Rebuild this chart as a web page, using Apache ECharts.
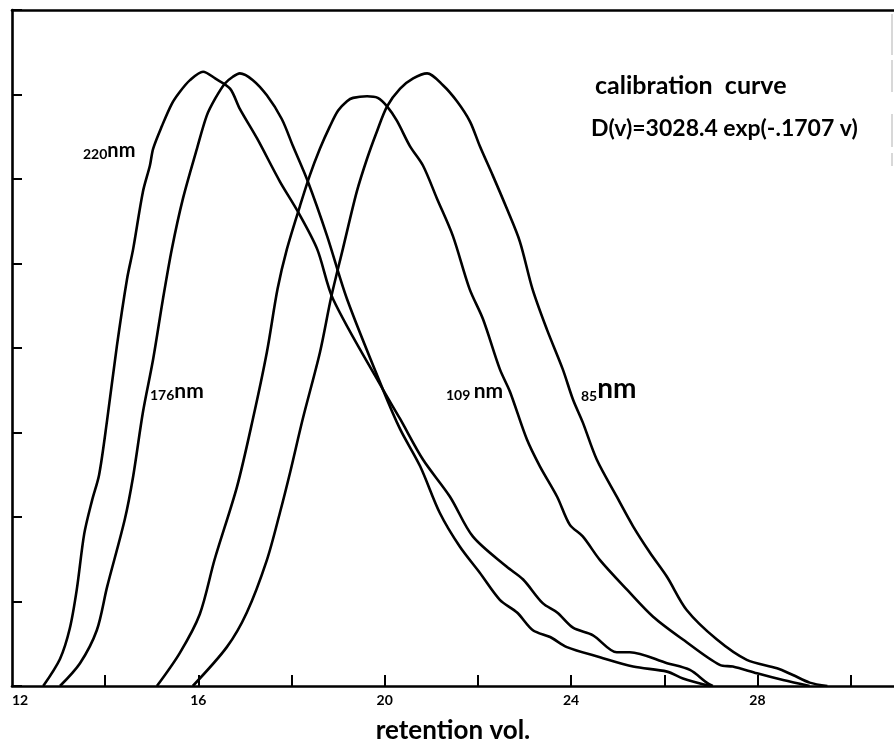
<!DOCTYPE html>
<html>
<head>
<meta charset="utf-8">
<script src="https://cdn.jsdelivr.net/npm/echarts@6/dist/echarts.min.js"></script>
<style>
html,body{margin:0;padding:0;background:#fff;}
#chart{width:894px;height:741px;}
</style>
</head>
<body>
<div id="chart"></div>
<script>
// ---- data ----
const xTickValues = [14, 16, 18, 20, 22, 24, 26, 28, 30];
const xLabelValues = [12, 16, 20, 24, 28];

const x220 = [12.67,13.03,13.24,13.39,13.55,13.72,13.87,14.04,14.25,14.47,14.6,14.81,14.96,15.03,15.22,15.43,15.6,15.82,16.1,16.36,16.68,16.89,17.26,17.75,18.14,18.55,18.89,19.96,20.33,20.82,21.4,21.89,22.62,22.97,23.39,23.7,24.04,24.47,24.98,25.26,26.06,26.55,26.91,27.04];
const y220 = [0,0.32,0.68,1.14,1.8,2.2,2.5,3.14,4.02,4.82,5.17,5.85,6.16,6.36,6.63,6.89,7.03,7.17,7.27,7.19,7.07,6.83,6.48,5.97,5.61,5.17,4.58,3.51,3.16,2.68,2.24,1.77,1.41,1.26,0.98,0.87,0.69,0.6,0.4,0.4,0.27,0.19,0.04,0];

const x176 = [13.03,13.46,13.82,14.04,14.42,14.6,14.81,15.03,15.24,15.43,15.67,15.97,16.18,16.36,16.57,16.74,16.89,17.17,17.47,17.79,18.03,18.35,18.76,19.19,19.96,20.33,20.76,21.18,21.61,22.04,22.47,22.84,23.18,23.55,23.91,24.62,25.33,26.06,26.4,26.98];
const y176 = [0,0.27,0.66,1.17,1.97,2.48,3.24,3.87,4.58,5.17,5.77,6.36,6.75,6.95,7.13,7.21,7.25,7.17,6.99,6.71,6.39,5.97,5.33,4.58,3.51,3.04,2.6,2.05,1.65,1.34,1.02,0.87,0.66,0.58,0.46,0.34,0.23,0.17,0.09,0];

const x109 = [15.11,15.6,16.03,16.35,16.83,17.17,17.47,17.7,17.9,18.18,18.39,18.61,18.82,19.0,19.19,19.32,19.62,19.85,20.05,20.26,20.54,20.82,21.12,21.46,21.82,22.11,22.47,22.69,23.05,23.33,23.7,23.97,24.25,24.62,25.2,25.76,26.4,27.19,27.47,27.99,28.55,29.12];
const y109 = [0,0.39,0.85,1.5,2.36,3.16,3.95,4.7,5.17,5.68,6.04,6.36,6.62,6.81,6.92,6.96,6.98,6.96,6.86,6.69,6.39,6.16,5.77,5.33,4.7,4.34,3.75,3.48,2.92,2.6,2.24,1.91,1.77,1.49,1.14,0.82,0.55,0.25,0.23,0.15,0.07,0];

const x85 = [15.88,16.61,17.04,17.47,17.75,17.97,18.24,18.61,18.85,19.1,19.4,19.62,19.83,20.05,20.33,20.61,20.91,21.25,21.55,21.83,22.04,22.32,22.62,22.9,23.17,23.48,23.82,24.04,24.25,24.55,24.98,25.33,25.69,26.06,26.48,27.13,27.77,28.42,28.76,29.12,29.5];
const y85 = [0,0.46,0.87,1.49,2.05,2.53,3.16,3.95,4.6,5.17,5.85,6.24,6.56,6.86,7.07,7.19,7.25,7.11,6.92,6.68,6.39,6.04,5.65,5.26,4.7,4.22,3.75,3.39,3.12,2.68,2.24,1.89,1.58,1.29,0.9,0.55,0.31,0.21,0.13,0.04,0];

const seriesNames = ['220nm', '176nm', '109nm', '85nm'];
const xAxisTitle = 'retention vol.';
const note1 = 'calibration  curve';
const note2 = 'D(v)=3028.4 exp(-.1707 v)';

function pairs(xs, ys) { return xs.map((x, i) => [x, ys[i]]); }

const FONT = 'Lato';
const chart = echarts.init(document.getElementById('chart'), null, {renderer: 'canvas'});

const lineStyle = {color: '#000', width: 2.6};
function mkSeries(name, xs, ys) {
  return {name: name, type: 'line', data: pairs(xs, ys), showSymbol: false, symbol: 'none',
          smooth: 0.3, lineStyle: lineStyle, z: 3};
}
function lbl(a, b, sa, sb) {
  return {text: '{a|' + a + '}{b|' + b + '}', rich: {
    a: {fontFamily: FONT, fontWeight: 'bold', fontSize: sa, fill: '#000', verticalAlign: 'bottom'},
    b: {fontFamily: FONT, fontWeight: 'bold', fontSize: sb, fill: '#000', verticalAlign: 'bottom'}}};
}

chart.setOption({
  animation: false,
  backgroundColor: '#fff',
  grid: {left: 12, right: 0, top: 10, bottom: 55, containLabel: false, outerBoundsMode: 'none'},
  xAxis: [{
    type: 'value', min: 12, max: 30.93, position: 'bottom',
    axisLine: {show: true, onZero: false, lineStyle: {color: '#000', width: 2.6}},
    axisTick: {show: true, inside: true, length: 11, customValues: xTickValues, lineStyle: {color: '#000', width: 2}},
    axisLabel: {show: true, customValues: xLabelValues, margin: 7, color: '#000', fontFamily: FONT, fontWeight: 'bold', fontSize: 14, alignMinLabel: 'left'},
    splitLine: {show: false},
    name: xAxisTitle, nameLocation: 'middle', nameGap: 32,
    nameTextStyle: {color: '#000', fontFamily: FONT, fontWeight: 'bold', fontSize: 26}
  }, {
    type: 'value', min: 12, max: 30.93, position: 'top',
    axisLine: {show: true, onZero: false, lineStyle: {color: '#000', width: 2.6}},
    axisTick: {show: false}, axisLabel: {show: false}, splitLine: {show: false}
  }],
  yAxis: {
    type: 'value', min: 0, max: 8, interval: 1,
    axisLine: {show: true, onZero: false, lineStyle: {color: '#000', width: 2.6}},
    axisTick: {show: true, inside: true, length: 10, lineStyle: {color: '#000', width: 2}},
    axisLabel: {show: false}, splitLine: {show: false}
  },
  series: [
    mkSeries(seriesNames[0], x220, y220),
    mkSeries(seriesNames[1], x176, y176),
    mkSeries(seriesNames[2], x109, y109),
    mkSeries(seriesNames[3], x85, y85)
  ],
  graphic: [
    {type: 'text', left: 83, top: 141, style: lbl('220', 'nm', 14, 20)},
    {type: 'text', left: 150, top: 381, style: lbl('176', 'nm', 14, 21)},
    {type: 'text', left: 446, top: 381, style: lbl('109 ', 'nm', 14, 21)},
    {type: 'text', left: 581, top: 375, style: lbl('85', 'nm', 14, 28)},
    {type: 'text', left: 595, top: 73, style: {text: note1, fontFamily: FONT, fontWeight: 'bold', fontSize: 25, fill: '#000'}},
    {type: 'text', left: 591, top: 117, style: {text: note2, fontFamily: FONT, fontWeight: 'bold', fontSize: 23, fill: '#000'}},
    {type: 'line', shape: {x1: 892, y1: 14, x2: 892, y2: 55}, style: {stroke: '#d8d8d8', lineWidth: 2}},
    {type: 'line', shape: {x1: 892, y1: 60, x2: 892, y2: 92}, style: {stroke: '#d8d8d8', lineWidth: 2}},
    {type: 'line', shape: {x1: 892, y1: 114, x2: 892, y2: 147}, style: {stroke: '#d8d8d8', lineWidth: 2}},
    {type: 'line', shape: {x1: 892, y1: 153, x2: 892, y2: 166}, style: {stroke: '#d8d8d8', lineWidth: 2}}
  ]
});
</script>
</body>
</html>
